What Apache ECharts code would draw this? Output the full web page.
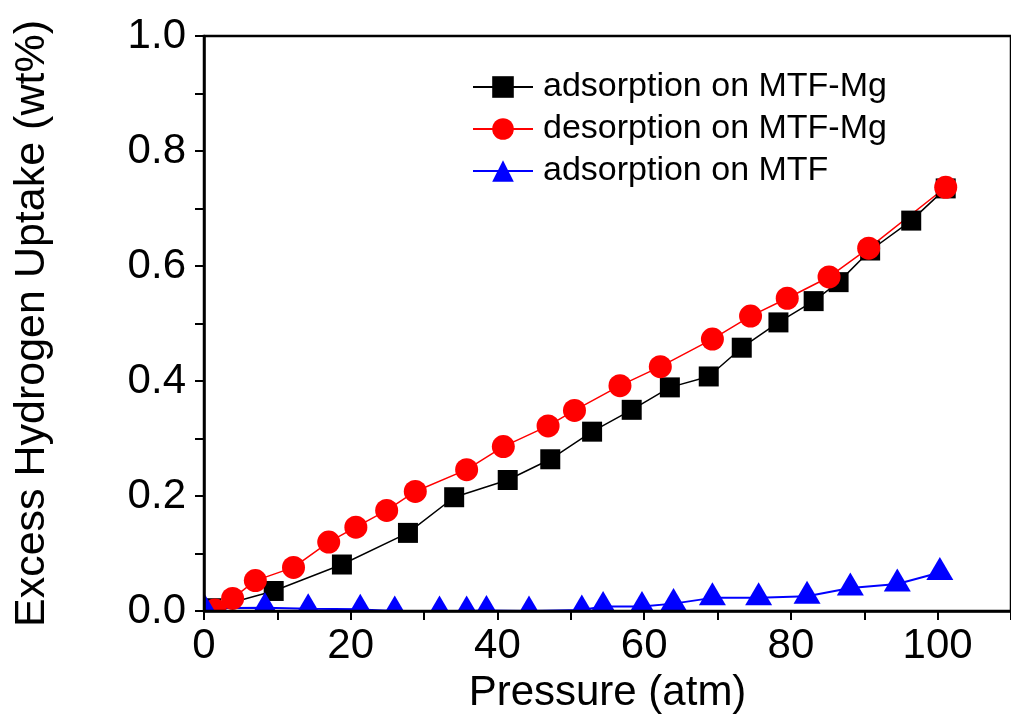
<!DOCTYPE html>
<html>
<head>
<meta charset="utf-8">
<script src="https://cdn.jsdelivr.net/npm/echarts@6/dist/echarts.min.js"></script>
<style>
  html, body { margin: 0; padding: 0; background: #fff; }
  #chart { width: 1011px; height: 719px; }
</style>
</head>
<body>
<div id="chart"></div>
<script>
// adsorption on MTF-Mg (black squares)
const adsMgX = [1, 9.5, 18.8, 27.8, 34.1, 41.4, 47.2, 52.9, 58.3, 63.5, 68.8, 73.3, 78.3, 83.1, 86.5, 90.8, 96.4, 101.1];
const adsMgY = [0.005, 0.035, 0.081, 0.136, 0.198, 0.228, 0.264, 0.312, 0.35, 0.389, 0.408, 0.458, 0.502, 0.539, 0.572, 0.627, 0.679, 0.735];

// desorption on MTF-Mg (red circles)
const desMgX = [1.5, 3.9, 7.0, 12.2, 17.0, 20.7, 24.9, 28.8, 35.8, 40.8, 46.9, 50.5, 56.7, 62.2, 69.3, 74.5, 79.5, 85.2, 90.6, 101.1];
const desMgY = [0.002, 0.022, 0.053, 0.076, 0.12, 0.146, 0.175, 0.208, 0.246, 0.286, 0.322, 0.349, 0.392, 0.425, 0.473, 0.513, 0.544, 0.581, 0.631, 0.737];

// adsorption on MTF (blue triangles)
const adsX = [0, 8.3, 14.2, 21.3, 26.0, 32.1, 35.8, 38.5, 44.3, 51.5, 54.4, 59.7, 64.0, 69.3, 75.6, 82.2, 88.1, 94.5, 100.3];
const adsY = [0.005, 0.006, 0.004, 0.003, 0.0, 0.0, 0.0, 0.001, 0.0, 0.002, 0.008, 0.008, 0.013, 0.023, 0.023, 0.026, 0.040, 0.047, 0.067];

const seriesNames = ['adsorption on MTF-Mg', 'desorption on MTF-Mg', 'adsorption on MTF'];

const font = '"Liberation Sans", Arial, sans-serif';
const pairs = (xs, ys) => xs.map((x, i) => [x, ys[i]]);

const chart = echarts.init(document.getElementById('chart'));

chart.setOption({
  animation: false,
  textStyle: { fontFamily: font, color: '#000' },
  grid: {
    left: 204, top: 36, right: -5, bottom: 102,
    show: true, borderColor: '#000', borderWidth: 2.5, z: 10
  },
  legend: {
    orient: 'vertical',
    left: 467, top: 65,
    itemWidth: 60, itemHeight: 27, itemGap: 8,
    z: 10,
    textStyle: { fontSize: 34, lineHeight: 34, color: '#000', padding: [0, 0, 0, 5] },
    data: seriesNames
  },
  xAxis: {
    type: 'value', min: 0, max: 110, interval: 20,
    name: 'Pressure (atm)', nameLocation: 'middle', nameGap: 48,
    nameTextStyle: { fontSize: 42, color: '#000' },
    axisLine: { onZero: false, lineStyle: { color: '#000', width: 2.5 } },
    axisTick: { length: 9, lineStyle: { color: '#000', width: 2 } },
    minorTick: { show: true, splitNumber: 2, length: 9, lineStyle: { color: '#000', width: 2 } },
    axisLabel: { fontSize: 42, color: '#000', margin: 14, showMaxLabel: false },
    splitLine: { show: false },
    z: 10
  },
  yAxis: {
    type: 'value', min: 0, max: 1, interval: 0.2,
    name: 'Excess Hydrogen Uptake (wt%)', nameLocation: 'middle', nameGap: 150,
    nameTextStyle: { fontSize: 43, color: '#000' },
    axisLine: { onZero: false, lineStyle: { color: '#000', width: 2.5 } },
    axisTick: { length: 9, lineStyle: { color: '#000', width: 2 } },
    minorTick: { show: true, splitNumber: 2, length: 9, lineStyle: { color: '#000', width: 2 } },
    axisLabel: { fontSize: 42, color: '#000', margin: 18, formatter: v => v.toFixed(1) },
    splitLine: { show: false },
    z: 10
  },
  series: [
    {
      name: seriesNames[0], type: 'line', data: pairs(adsMgX, adsMgY),
      symbol: 'rect', symbolSize: 20, color: '#000000',
      lineStyle: { width: 1.5, color: '#000000' }
    },
    {
      name: seriesNames[1], type: 'line', data: pairs(desMgX, desMgY),
      symbol: 'circle', symbolSize: 23, color: '#ff0000',
      lineStyle: { width: 1.5, color: '#ff0000' }
    },
    {
      name: seriesNames[2], type: 'line', data: pairs(adsX, adsY),
      symbol: 'triangle', symbolSize: [27, 23], symbolOffset: [0, -4], color: '#0000ff',
      lineStyle: { width: 2, color: '#0000ff' }
    }
  ]
});

// white masks outside the plot frame so markers are cut at the axes, like the original
const origin = chart.convertToPixel({ gridIndex: 0 }, [0, 0]);
const topY = chart.convertToPixel({ gridIndex: 0 }, [0, 1])[1];
const W = chart.getWidth(), H = chart.getHeight();
const mask = (x, y, w, h) => ({ type: 'rect', z: 5, silent: true, shape: { x, y, width: w, height: h }, style: { fill: '#fff' } });
chart.setOption({
  graphic: [
    mask(0, 0, origin[0] - 1, H),
    mask(0, origin[1] + 1, W, H - origin[1]),
    mask(0, 0, W, topY - 1)
  ]
});
</script>
</body>
</html>
